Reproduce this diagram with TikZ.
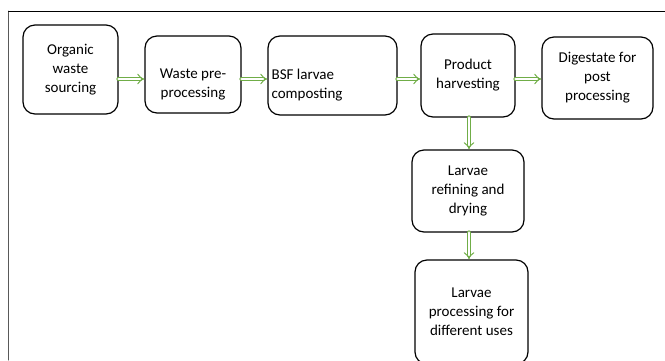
\documentclass[tikz,border=0pt]{standalone}
\usepackage{fontspec}
\setmainfont{Carlito}
\usetikzlibrary{arrows.meta}

\begin{document}
\begin{tikzpicture}
		[x=1pt,y=-1pt,line cap=round,
		%Styles
		stage/.style={draw=black,line width=1.2pt,rounded corners=12pt,fill=white,align=center,inner sep=2pt},
		caption text/.style={align=center,inner sep=0pt},
		flow/.style={draw=flowgreen,line width=1pt,double=white,double distance=2.6pt,-{Implies}}
		]
		
		%Colors
		\definecolor{flowgreen}{RGB}{112,173,71}	%arrows
		
		\useasboundingbox (0,0) rectangle (665,360);
		\fontsize{15}{19}\selectfont
		
		%Frame
		\draw[gray!70!black,line width=1pt] (8.5,360) -- (8.5,11) coordinate (corner);
		\draw[black,line width=0.9pt] (corner) -- (665,11);
		
		%The graphic
		\node[stage,minimum width=95pt,minimum height=89pt] (src) at (70.5,69.5) {Organic\\waste\\sourcing};
		\node[stage,minimum width=96pt,minimum height=77pt] (pre) at (193,74.5) {};
		\node[caption text] at ([yshift=-10pt]pre.center) {Waste pre-\\processing};
		\node[stage,minimum width=129pt,minimum height=79pt] (bsf) at (332.5,75.5) {};
		\node[caption text,align=left,anchor=west] at ([xshift=4pt,yshift=-10pt]bsf.west) {BSF larvae\\composting};
		\node[stage,minimum width=94pt,minimum height=83pt] (harv) at (468,75.5) {Product\\harvesting};
		\node[stage,minimum width=111pt,minimum height=82pt] (dig) at (597.5,78) {Digestate for\\post\\processing};
		\node[stage,minimum width=112pt,minimum height=82pt] (refine) at (468,191) {Larvae\\refining and\\drying};
		\node[stage,minimum width=113pt,minimum height=104pt] (uses) at (471.5,312) {Larvae\\processing for\\different uses};
		
		\coordinate (row) at (0,79);
		\coordinate (col) at (469,0);
		
		\draw[flow] (src.east |- row) -- (pre.west |- row);
		\draw[flow] (pre.east |- row) -- (bsf.west |- row);
		\draw[flow] (bsf.east |- row) -- (harv.west |- row);
		\draw[flow] (harv.east |- row) -- (dig.west |- row);
		\draw[flow] (harv.south -| col) -- (refine.north -| col);
		\draw[flow] (refine.south -| col) -- (uses.north -| col);
	\end{tikzpicture}
\end{document}
